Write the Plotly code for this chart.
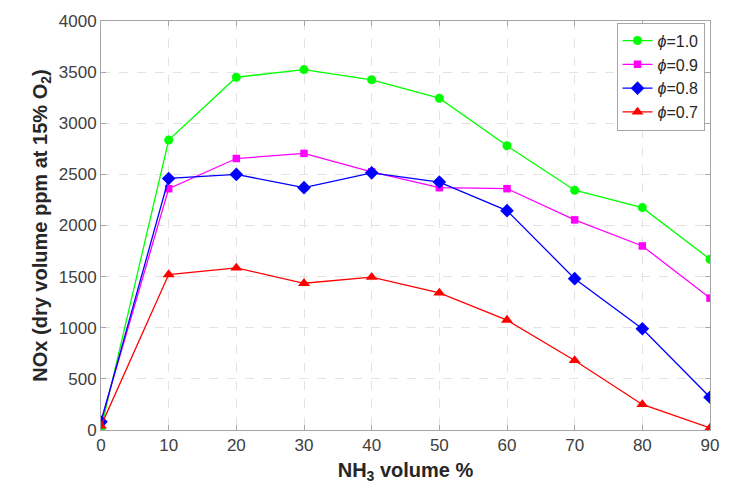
import plotly.graph_objects as go

# NH3 share of the fuel blend (volume %)
nh3_pct = [0, 10, 20, 30, 40, 50, 60, 70, 80, 90]

# NOx emissions (dry ppm @ 15% O2) for each equivalence ratio
nox_phi_10 = [10, 2835, 3450, 3525, 3425, 3245, 2780, 2345, 2175, 1670]
nox_phi_09 = [90, 2360, 2655, 2705, 2525, 2370, 2360, 2055, 1800, 1290]
nox_phi_08 = [80, 2460, 2500, 2370, 2515, 2425, 2145, 1480, 990, 320]
nox_phi_07 = [40, 1520, 1585, 1435, 1495, 1340, 1075, 680, 250, 20]

series_labels = ["<i>ϕ</i>=1.0", "<i>ϕ</i>=0.9", "<i>ϕ</i>=0.8", "<i>ϕ</i>=0.7"]
series_values = [nox_phi_10, nox_phi_09, nox_phi_08, nox_phi_07]
series_colors = ["#00ff00", "#ff00ff", "#0000ff", "#ff0000"]
series_symbols = ["circle", "square", "diamond", "triangle-up"]
marker_sizes = [9, 7.5, 10.5, 10.5]

x_ticks = [0, 10, 20, 30, 40, 50, 60, 70, 80, 90]
y_ticks = [0, 500, 1000, 1500, 2000, 2500, 3000, 3500, 4000]

FONT = "Liberation Sans, Arial, sans-serif"

fig = go.Figure()
for label, vals, color, sym, msz in zip(series_labels, series_values,
                                         series_colors, series_symbols, marker_sizes):
    fig.add_trace(go.Scatter(
        x=nh3_pct, y=vals, name=label, mode="lines+markers",
        line=dict(color=color, width=1.3),
        marker=dict(color=color, symbol=sym, size=msz, line=dict(width=0)),
    ))

axis_common = dict(
    showline=True, linecolor="#a6a6a6", linewidth=1, mirror="ticks",
    ticks="inside", ticklen=5, tickcolor="#a6a6a6",
    showgrid=True, gridcolor="#e3e3e3", griddash="dash", gridwidth=1,
    zeroline=False,
    tickfont=dict(family=FONT, size=17, color="#404040"),
)

fig.update_xaxes(
    range=[0, 90], tickvals=x_ticks,
    title=dict(text="<b>NH<sub>3</sub> volume %</b>", standoff=8,
               font=dict(family=FONT, size=20, color="#262626")),
    **axis_common,
)
fig.update_yaxes(
    range=[0, 4000], tickvals=y_ticks,
    title=dict(text="<b>NOx (dry volume ppm at 15% O<sub>2</sub>)</b>", standoff=5,
               font=dict(family=FONT, size=20, color="#262626")),
    **axis_common,
)

fig.update_layout(
    width=731, height=489,
    margin=dict(l=101, r=13, t=18, b=57),
    paper_bgcolor="white", plot_bgcolor="white",
    showlegend=True,
    legend=dict(
        x=0.991, y=0.996, xanchor="right", yanchor="top",
        bgcolor="white", bordercolor="#a6a6a6", borderwidth=1,
        font=dict(family=FONT, size=16, color="#262626"),
        itemwidth=30, tracegroupgap=0,
    ),
)

fig.write_html("out.html")
